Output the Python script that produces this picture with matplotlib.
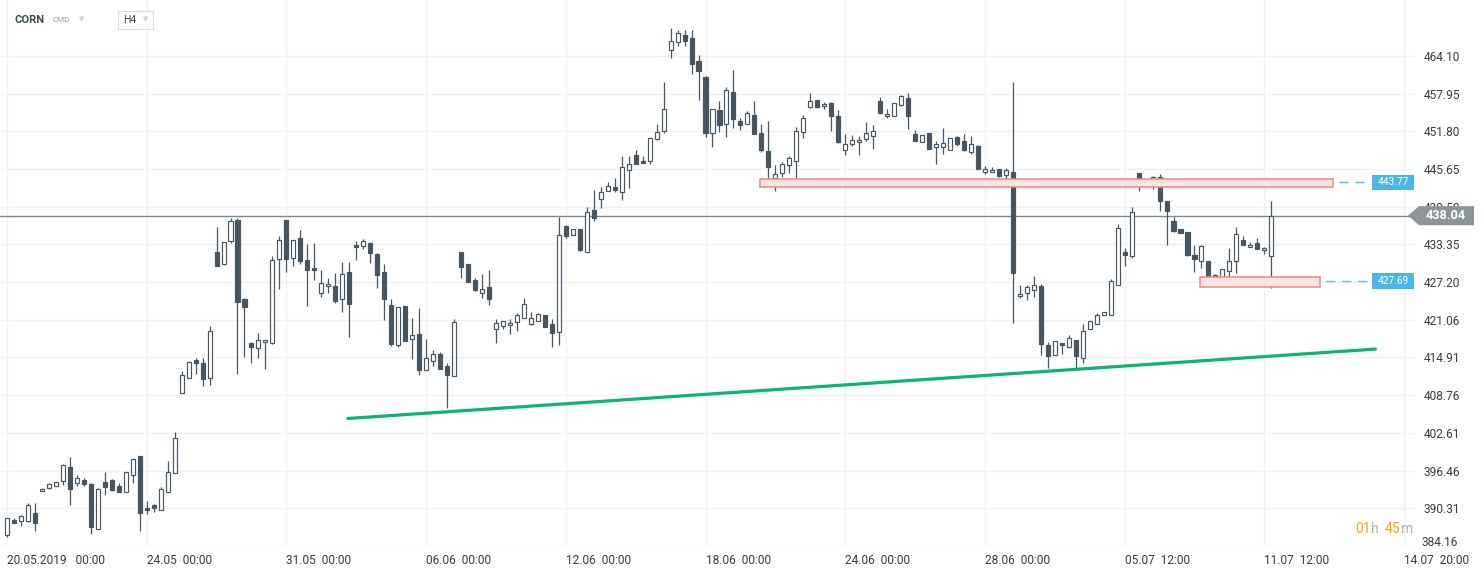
import matplotlib.pyplot as plt
from matplotlib import transforms
from matplotlib.patches import Rectangle, Polygon

plt.rcParams['font.family'] = ['Roboto', 'DejaVu Sans']

# H4 candles, CORN
opens = [386.0, 388.4, 388.2, 388.2, 389.5, 393.2, 393.7, 394.0, 394.8, 397.1,
         394.4, 395.0, 394.2, 386.9, 394.6, 394.9, 393.9, 393.0, 395.8, 398.8,
         390.4, 390.8, 390.0, 393.0, 396.1, 409.1, 411.6, 414.5, 414.0, 411.6,
         432.1, 430.2, 433.9, 437.3, 424.4, 417.3, 416.5, 417.5, 417.2, 431.0,
         437.4, 431.1, 434.4, 430.8, 429.5, 425.4, 426.6, 426.6, 424.5, 428.9,
         433.3, 433.1, 433.6, 431.8, 428.9, 423.5, 416.9, 423.3, 417.9, 418.8,
         412.8, 414.3, 415.5, 413.5, 411.9, 432.1, 430.2, 427.5, 425.5, 426.4,
         419.6, 420.1, 420.2, 420.7, 421.4, 420.4, 420.9, 421.8, 420.4, 419.1,
         436.3, 434.9, 435.9, 432.1, 439.0, 440.7, 442.1, 442.7, 441.9, 445.5,
         447.9, 446.9, 446.9, 450.5, 451.8, 465.0, 466.3, 467.5, 467.0, 463.2,
         460.7, 451.5, 455.2, 453.0, 458.2, 453.5, 453.0, 454.4, 451.5, 448.6,
         444.2, 445.0, 446.3, 446.9, 451.7, 455.7, 456.9, 455.9, 456.4, 454.3,
         448.7, 449.7, 450.0, 450.5, 451.0, 456.7, 454.3, 454.3, 456.1, 457.2,
         451.3, 450.0, 451.5, 449.2, 449.2, 448.7, 450.8, 450.2, 448.4, 449.4,
         445.1, 445.1, 445.6, 444.7, 445.1, 424.9, 425.4, 425.9, 426.6, 417.0,
         415.3, 417.3, 416.6, 417.8, 414.8, 419.6, 420.4, 421.8, 421.8, 426.8,
         432.1, 431.4, 445.0, 443.8, 442.9, 444.3, 440.4, 437.2, 435.9, 435.4,
         431.6, 430.6, 430.6, 428.4, 427.7, 429.0, 430.6, 434.1, 432.9, 433.6,
         432.4, 431.5]
highs = [388.8, 388.8, 389.2, 391.1, 391.1, 393.7, 394.4, 394.6, 397.5, 398.6,
         395.8, 395.3, 394.4, 393.7, 396.2, 395.1, 394.5, 396.3, 398.4, 398.8,
         391.5, 391.0, 393.8, 398.1, 402.7, 412.7, 414.4, 414.8, 414.8, 420.0,
         436.2, 433.7, 437.7, 437.7, 424.6, 417.5, 418.9, 417.8, 431.5, 434.8,
         437.4, 434.1, 435.7, 433.4, 433.6, 429.1, 427.9, 428.7, 430.5, 430.5,
         433.9, 434.2, 433.7, 432.0, 430.2, 424.5, 423.2, 423.3, 421.3, 423.0,
         418.0, 416.2, 415.8, 414.0, 421.2, 432.1, 430.2, 427.8, 428.6, 429.1,
         421.2, 420.9, 421.2, 422.2, 424.6, 422.4, 422.2, 421.8, 421.2, 437.9,
         436.5, 435.9, 435.9, 439.4, 442.3, 442.7, 443.5, 444.2, 447.8, 447.8,
         448.7, 447.8, 450.7, 453.0, 459.9, 468.6, 468.3, 468.3, 468.3, 464.3,
         460.8, 455.4, 456.8, 459.0, 461.8, 453.9, 455.1, 456.8, 453.0, 453.5,
         446.3, 446.8, 447.8, 452.5, 454.4, 458.0, 456.9, 456.6, 456.6, 455.2,
         451.3, 451.2, 451.0, 453.3, 452.8, 457.4, 455.4, 456.4, 457.7, 458.0,
         452.0, 451.2, 451.5, 450.2, 452.3, 450.7, 451.0, 451.3, 451.0, 449.5,
         446.1, 446.0, 445.6, 445.8, 459.8, 426.7, 426.7, 428.2, 426.9, 417.4,
         417.6, 417.3, 418.5, 417.8, 420.4, 420.9, 422.1, 422.3, 427.7, 436.7,
         432.8, 439.4, 445.0, 443.8, 444.5, 444.8, 440.4, 437.8, 435.9, 435.4,
         433.3, 433.3, 430.6, 428.5, 429.3, 432.8, 436.2, 434.7, 433.7, 434.4,
         432.9, 440.4]
lows = [385.6, 387.9, 387.4, 388.1, 386.6, 393.1, 393.5, 394.0, 394.1, 390.8,
        393.9, 393.9, 386.1, 386.9, 392.5, 393.1, 393.0, 393.0, 394.4, 386.6,
        389.4, 389.7, 390.0, 393.0, 396.1, 409.1, 411.6, 412.2, 410.2, 410.4,
        429.8, 430.0, 433.6, 412.2, 415.0, 414.0, 414.8, 413.0, 417.1, 426.0,
        428.8, 429.8, 430.1, 423.3, 427.5, 424.7, 425.5, 423.8, 422.3, 418.2,
        430.8, 432.6, 430.3, 426.2, 421.0, 416.8, 416.7, 417.6, 414.6, 412.0,
        412.8, 413.6, 413.0, 406.7, 411.9, 427.8, 427.2, 425.7, 424.6, 423.4,
        417.3, 419.6, 418.7, 419.3, 421.4, 420.2, 420.9, 419.9, 416.6, 417.0,
        434.4, 434.9, 432.3, 432.1, 437.2, 439.3, 442.1, 441.9, 440.6, 442.5,
        446.4, 446.6, 446.4, 450.4, 451.5, 463.7, 465.7, 465.7, 461.1, 456.9,
        450.8, 449.3, 451.7, 450.8, 452.3, 452.0, 453.0, 451.3, 448.4, 442.8,
        442.0, 444.3, 445.0, 444.0, 450.7, 455.6, 455.6, 455.4, 451.8, 449.9,
        447.9, 449.4, 447.9, 450.2, 448.9, 454.6, 453.9, 454.3, 455.9, 452.1,
        450.2, 450.0, 448.9, 446.4, 448.1, 448.7, 449.4, 448.6, 448.1, 445.6,
        444.8, 445.1, 444.3, 443.8, 420.5, 424.6, 424.3, 424.8, 415.3, 413.2,
        415.3, 415.5, 416.6, 413.0, 414.0, 419.6, 420.4, 421.8, 421.8, 426.7,
        429.9, 431.1, 442.0, 442.9, 442.4, 438.8, 433.2, 435.4, 435.2, 431.4,
        428.9, 429.5, 426.9, 427.5, 427.2, 427.9, 428.7, 433.3, 432.9, 432.6,
        431.8, 426.2]
closes = [388.8, 387.9, 389.0, 390.8, 387.9, 393.5, 394.2, 394.6, 397.3, 393.5,
          395.3, 394.3, 387.3, 393.5, 393.8, 393.3, 393.0, 396.3, 398.3, 389.5,
          390.0, 390.4, 393.5, 396.3, 401.8, 412.1, 414.2, 414.0, 411.4, 419.2,
          429.9, 433.7, 437.2, 424.0, 423.2, 416.6, 417.8, 417.8, 430.8, 434.1,
          430.9, 434.1, 430.6, 429.2, 429.1, 427.1, 426.9, 424.1, 428.5, 423.6,
          432.9, 433.9, 432.0, 428.3, 424.5, 417.1, 423.2, 417.6, 418.6, 412.8,
          414.8, 415.5, 413.0, 412.1, 420.7, 429.6, 427.2, 425.9, 426.1, 424.5,
          420.5, 420.9, 420.5, 421.8, 423.6, 421.4, 422.0, 419.9, 418.9, 434.9,
          434.7, 435.9, 432.4, 438.6, 437.7, 441.9, 442.9, 442.2, 446.0, 446.4,
          446.4, 446.6, 450.7, 451.7, 455.4, 466.6, 467.8, 466.5, 462.7, 461.7,
          451.6, 455.4, 452.8, 458.5, 453.8, 452.8, 454.8, 451.3, 448.7, 446.0,
          444.8, 446.4, 447.4, 451.8, 453.9, 456.7, 455.7, 456.2, 454.3, 450.0,
          449.7, 450.4, 450.4, 451.5, 451.8, 454.8, 454.6, 456.4, 457.5, 454.3,
          450.2, 451.2, 448.9, 449.7, 449.9, 450.7, 449.7, 448.7, 449.7, 445.6,
          445.6, 445.5, 444.5, 445.5, 428.7, 425.3, 426.4, 426.7, 417.1, 415.2,
          417.6, 417.0, 418.1, 415.1, 419.2, 420.9, 421.8, 422.3, 427.4, 436.0,
          431.6, 438.6, 443.5, 442.9, 444.3, 440.4, 438.8, 435.5, 435.2, 431.6,
          431.0, 433.1, 427.9, 427.7, 429.3, 430.6, 435.0, 433.3, 433.3, 432.6,
          432.8, 438.04]

price_ticks = [464.10, 457.95, 451.80, 445.65, 439.50, 433.35, 427.20,
               421.06, 414.91, 408.76, 402.61, 396.46, 390.31, 384.16]
date_pos = [0, 20, 40, 60, 80, 100, 120, 140, 160, 180, 200]
date_labels = ['20.05.2019   00:00', '24.05  00:00', '31.05  00:00', '06.06  00:00',
               '12.06  00:00', '18.06  00:00', '24.06  00:00', '28.06  00:00',
               '05.07  12:00', '11.07  12:00', '14.07  20:00']

last_price = 438.04

# support / resistance zones: bar start, bar end, low, high, level
zone_start = [107.8, 170.8]
zone_end = [189.8, 188.0]
zone_low = [442.70, 426.41]
zone_high = [444.01, 428.04]
zone_level = [443.77, 427.69]

# trend line
trend_x = [48.8, 195.9]
trend_y = [404.96, 416.28]

W, H = 1482, 574
fig = plt.figure(figsize=(W / 100, H / 100), dpi=100)
ax = fig.add_axes([0, 28 / H, 1415 / W, 546 / H])
ax.set_xlim(-1.0, 201.57)
ax.set_ylim(384.27, 473.22)
for s in ax.spines.values():
    s.set_visible(False)

dark = '#46555f'
grid = '#f1f1f1'
txt = '#3a3a3a'

ax.set_yticks(price_ticks)
ax.set_yticklabels(['%.2f' % p for p in price_ticks[:-1]] + [''])
ax.yaxis.tick_right()
ax.tick_params(axis='y', length=0, pad=6, labelsize=8.6, labelcolor=txt)
ax.set_xticks(date_pos)
ax.set_xticklabels(date_labels, ha='left')
ax.tick_params(axis='x', length=0, pad=5.5, labelsize=8.6, labelcolor=txt)
ax.grid(True, color=grid, lw=1.0)
ax.set_axisbelow(True)

# candles
xs = list(range(len(opens)))
ax.vlines(xs, lows, highs, color=dark, lw=0.9, zorder=3)
for i in xs:
    o, c = opens[i], closes[i]
    lo, hi = min(o, c), max(o, c)
    h = max(hi - lo, 0.25)
    up = c >= o
    ax.bar(i, h, bottom=lo, width=0.58, color='white' if up else dark,
           edgecolor=dark, lw=0.85, zorder=4)

# last price line
ax.axhline(last_price, color='#7d8a8e', lw=1.0, zorder=2)

# zones
bt = transforms.blended_transform_factory(fig.transFigure, ax.transData)
for x0, x1, lo, hi, lvl in zip(zone_start, zone_end, zone_low, zone_high, zone_level):
    ax.add_patch(Rectangle((x0, lo), x1 - x0, hi - lo, facecolor='#fde3e3',
                           edgecolor='#ee8686', lw=1.1, zorder=5))
    yl = lvl - 0.3
    ax.plot([x1 + 0.9, 195.3], [yl, yl], color='#5bbbe8', lw=1.0,
            dashes=(6.5, 5), clip_on=False, zorder=5)
    ax.add_patch(Rectangle((1372 / W, yl - 1.25), 42 / W, 2.5, transform=bt,
                           facecolor='#4cb5e6', edgecolor='none', clip_on=False, zorder=6))
    ax.text(1393 / W, yl, '%.2f' % lvl, transform=bt, color='white', fontsize=7.3,
            ha='center', va='center', clip_on=False, zorder=7)

# trend line
ax.plot(trend_x, trend_y, color='#0db470', lw=2.3, solid_capstyle='round', zorder=6)

# last price tag
tag = Polygon([(1408 / W, last_price), (1419 / W, last_price + 1.55),
               (1474 / W, last_price + 1.55), (1474 / W, last_price - 1.55),
               (1419 / W, last_price - 1.55)], closed=True, transform=bt,
              facecolor='#8b9598', edgecolor='none', clip_on=False, zorder=8)
ax.add_patch(tag)
ax.text(1446 / W, last_price, '%.2f' % last_price, transform=bt, color='white',
        fontsize=9.2, fontweight='bold', ha='center', va='center', zorder=9)

# bottom price label, held just above the axis edge
fig.text(1421 / W, 1 - 543 / H, '%.2f' % price_ticks[-1], fontsize=8.6,
         color=txt, va='center', ha='left')

# countdown
y_cd = 1 - 529 / H
fig.text(1355 / W, y_cd, '01', color='#f7a01c', fontsize=10, va='center')
fig.text(1371.5 / W, y_cd, 'h', color='#b0b0b0', fontsize=10, va='center')
fig.text(1384.5 / W, y_cd, '45', color='#f7a01c', fontsize=10, va='center')
fig.text(1401 / W, y_cd, 'm', color='#b0b0b0', fontsize=10, va='center')

# header
fig.text(14 / W, 1 - 20 / H, 'CORN', color='#3d4a53', fontsize=8, fontweight='bold', va='center')
fig.text(53 / W, 1 - 20.5 / H, 'CMD', color='#9aa3a8', fontsize=5.8, va='center')
fig.text(79 / W, 1 - 19 / H, '▼', color='#cfcfcf', fontsize=5, va='center',
         family='DejaVu Sans')
fig.patches.append(Rectangle((118 / W, 1 - 29 / H), 35 / W, 18 / H, transform=fig.transFigure,
                             facecolor='white', edgecolor='#dcdcdc', lw=0.8, figure=fig))
fig.text(123 / W, 1 - 20 / H, 'H4', color='#3d4a53', fontsize=7.5, va='center')
fig.text(143 / W, 1 - 19 / H, '▼', color='#cfcfcf', fontsize=5, va='center',
         family='DejaVu Sans')

fig.savefig('out.png', dpi=100)
